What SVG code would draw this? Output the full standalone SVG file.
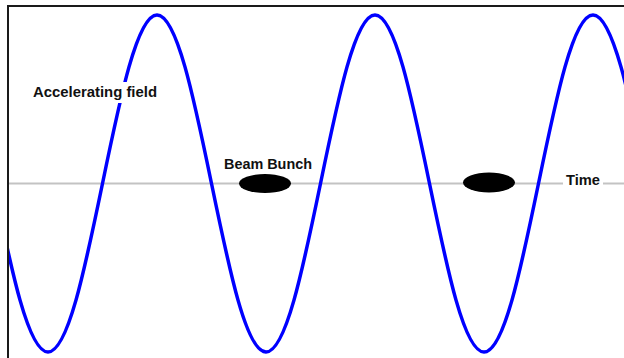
<svg xmlns="http://www.w3.org/2000/svg" width="624" height="358" viewBox="0 0 624 358">
<style>
.lbl{font-family:"Liberation Sans",Arial,sans-serif;font-weight:bold;font-size:14px;fill:#111}
.bg{fill:#fff}
.bunch{fill:#000}
</style>
<defs>
<clipPath id="frame"><rect x="8" y="6" width="616" height="352"/></clipPath>
</defs>
<rect width="624" height="358" fill="#fff"/>
<g id="axis">
<line x1="8" y1="183.5" x2="624" y2="183.5" stroke="#c3c3c3" stroke-width="2"/>
</g>
<g id="wave" clip-path="url(#frame)">
<path d="M -6.5 183.5 C 11.27 269.8 28.28 352 48 352 C 67.72 352 84.73 269.8 102.5 183.5 C 120.27 97.2 137.28 15 157 15 C 176.72 15 193.73 97.2 211.5 183.5 C 229.27 269.8 246.28 352 266 352 C 285.72 352 302.73 269.8 320.5 183.5 C 338.27 97.2 355.28 15 375 15 C 394.72 15 411.73 97.2 429.5 183.5 C 447.27 269.8 464.28 352 484 352 C 503.72 352 520.73 269.8 538.5 183.5 C 556.27 97.2 573.28 15 593 15 C 612.72 15 629.73 97.2 647.5 183.5" fill="none" stroke="#0000ff" stroke-width="3.5"/>
</g>
<g id="field-label">
<rect class="bg" x="29" y="82" width="132" height="21"/>
<text class="lbl" x="33" y="97" textLength="124" lengthAdjust="spacingAndGlyphs">Accelerating field</text>
</g>
<g id="bunch1">
<ellipse class="bunch" cx="265" cy="183.5" rx="26" ry="9.5"/>
</g>
<g id="bunch-label">
<text class="lbl" x="224" y="169" textLength="88" lengthAdjust="spacingAndGlyphs">Beam Bunch</text>
</g>
<g id="bunch2">
<ellipse class="bunch" cx="489" cy="182.5" rx="26" ry="10"/>
</g>
<g id="time-label">
<rect class="bg" x="563" y="174" width="40" height="18"/>
<text class="lbl" x="566" y="185" textLength="34" lengthAdjust="spacingAndGlyphs">Time</text>
</g>
<g id="border" stroke="#1a1a1a" stroke-width="2" fill="none">
<path d="M 8 358 L 8 6 L 624 6"/>
</g>
</svg>
